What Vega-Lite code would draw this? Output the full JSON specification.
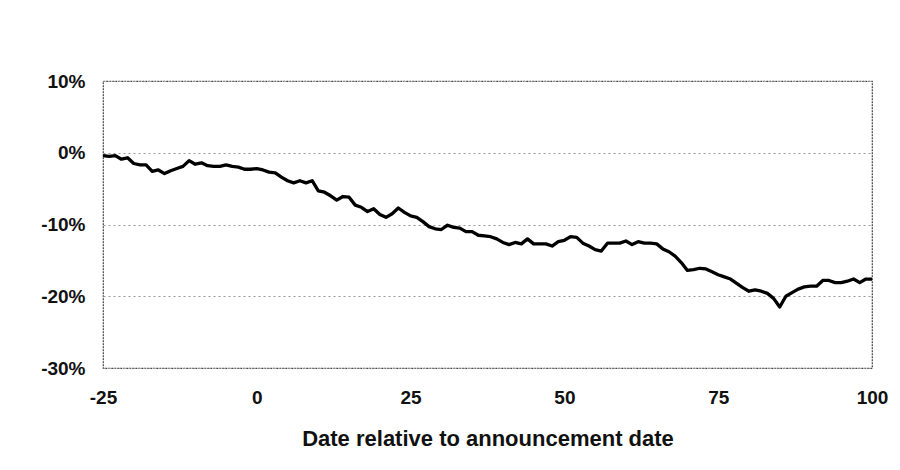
{
  "$schema": "https://vega.github.io/schema/vega-lite/v6.json",
  "autosize": {"type": "none"},
  "padding": {"left": 103, "top": 81, "right": 28, "bottom": 102},
  "width": 769,
  "height": 287,
  "background": "white",
  "config": {
    "view": {"stroke": "#444", "strokeWidth": 1.2, "strokeDash": [2, 1]},
    "axis": {"labelFont": "Liberation Sans", "titleFont": "Liberation Sans", "labelFontWeight": "bold", "titleFontWeight": "bold", "labelColor": "#111", "titleColor": "#111"}
  },
  "data": {"values": [
    {"day": -25, "ret": -0.4}, {"day": -24, "ret": -0.5}, {"day": -23, "ret": -0.4}, {"day": -22, "ret": -0.9},
    {"day": -21, "ret": -0.7}, {"day": -20, "ret": -1.5}, {"day": -19, "ret": -1.7}, {"day": -18, "ret": -1.7},
    {"day": -17, "ret": -2.6}, {"day": -16, "ret": -2.4}, {"day": -15, "ret": -2.9}, {"day": -14, "ret": -2.5},
    {"day": -13, "ret": -2.2}, {"day": -12, "ret": -1.9}, {"day": -11, "ret": -1.1}, {"day": -10, "ret": -1.6},
    {"day": -9, "ret": -1.4}, {"day": -8, "ret": -1.8}, {"day": -7, "ret": -1.9}, {"day": -6, "ret": -1.9},
    {"day": -5, "ret": -1.7}, {"day": -4, "ret": -1.9}, {"day": -3, "ret": -2.0}, {"day": -2, "ret": -2.3},
    {"day": -1, "ret": -2.3}, {"day": 0, "ret": -2.2}, {"day": 1, "ret": -2.4}, {"day": 2, "ret": -2.7},
    {"day": 3, "ret": -2.8}, {"day": 4, "ret": -3.4}, {"day": 5, "ret": -3.9}, {"day": 6, "ret": -4.2},
    {"day": 7, "ret": -3.9}, {"day": 8, "ret": -4.2}, {"day": 9, "ret": -3.9}, {"day": 10, "ret": -5.3},
    {"day": 11, "ret": -5.5}, {"day": 12, "ret": -6.0}, {"day": 13, "ret": -6.6}, {"day": 14, "ret": -6.1},
    {"day": 15, "ret": -6.2}, {"day": 16, "ret": -7.3}, {"day": 17, "ret": -7.6}, {"day": 18, "ret": -8.2},
    {"day": 19, "ret": -7.8}, {"day": 20, "ret": -8.6}, {"day": 21, "ret": -9.0}, {"day": 22, "ret": -8.5},
    {"day": 23, "ret": -7.7}, {"day": 24, "ret": -8.3}, {"day": 25, "ret": -8.8}, {"day": 26, "ret": -9.0},
    {"day": 27, "ret": -9.6}, {"day": 28, "ret": -10.3}, {"day": 29, "ret": -10.6}, {"day": 30, "ret": -10.7},
    {"day": 31, "ret": -10.1}, {"day": 32, "ret": -10.4}, {"day": 33, "ret": -10.5}, {"day": 34, "ret": -11.0},
    {"day": 35, "ret": -11.0}, {"day": 36, "ret": -11.5}, {"day": 37, "ret": -11.6}, {"day": 38, "ret": -11.7},
    {"day": 39, "ret": -12.0}, {"day": 40, "ret": -12.5}, {"day": 41, "ret": -12.8}, {"day": 42, "ret": -12.5},
    {"day": 43, "ret": -12.7}, {"day": 44, "ret": -12.0}, {"day": 45, "ret": -12.7}, {"day": 46, "ret": -12.7},
    {"day": 47, "ret": -12.7}, {"day": 48, "ret": -13.0}, {"day": 49, "ret": -12.4}, {"day": 50, "ret": -12.2},
    {"day": 51, "ret": -11.7}, {"day": 52, "ret": -11.8}, {"day": 53, "ret": -12.6}, {"day": 54, "ret": -13.0},
    {"day": 55, "ret": -13.5}, {"day": 56, "ret": -13.7}, {"day": 57, "ret": -12.6}, {"day": 58, "ret": -12.6},
    {"day": 59, "ret": -12.6}, {"day": 60, "ret": -12.3}, {"day": 61, "ret": -12.8}, {"day": 62, "ret": -12.4},
    {"day": 63, "ret": -12.6}, {"day": 64, "ret": -12.6}, {"day": 65, "ret": -12.7}, {"day": 66, "ret": -13.4},
    {"day": 67, "ret": -13.8}, {"day": 68, "ret": -14.4}, {"day": 69, "ret": -15.3}, {"day": 70, "ret": -16.4},
    {"day": 71, "ret": -16.3}, {"day": 72, "ret": -16.1}, {"day": 73, "ret": -16.2}, {"day": 74, "ret": -16.6},
    {"day": 75, "ret": -17.0}, {"day": 76, "ret": -17.3}, {"day": 77, "ret": -17.6}, {"day": 78, "ret": -18.2},
    {"day": 79, "ret": -18.8}, {"day": 80, "ret": -19.3}, {"day": 81, "ret": -19.1}, {"day": 82, "ret": -19.3},
    {"day": 83, "ret": -19.6}, {"day": 84, "ret": -20.3}, {"day": 85, "ret": -21.5}, {"day": 86, "ret": -20.0},
    {"day": 87, "ret": -19.5}, {"day": 88, "ret": -19.0}, {"day": 89, "ret": -18.7}, {"day": 90, "ret": -18.6},
    {"day": 91, "ret": -18.6}, {"day": 92, "ret": -17.8}, {"day": 93, "ret": -17.8}, {"day": 94, "ret": -18.1},
    {"day": 95, "ret": -18.1}, {"day": 96, "ret": -17.9}, {"day": 97, "ret": -17.6}, {"day": 98, "ret": -18.1},
    {"day": 99, "ret": -17.6}, {"day": 100, "ret": -17.6}
  ]},
  "mark": {"type": "line", "color": "#000", "strokeWidth": 3.3, "strokeJoin": "round"},
  "encoding": {
    "x": {
      "field": "day", "type": "quantitative",
      "scale": {"domain": [-25, 100], "nice": false, "zero": false},
      "axis": {
        "values": [-25, 0, 25, 50, 75, 100],
        "labelExpr": "datum.value + ''",
        "title": "Date relative to announcement date",
        "titleFontSize": 22, "titlePadding": 21,
        "labelFontSize": 19, "labelPadding": 20,
        "grid": false, "domain": false, "ticks": false, "labelFlush": false
      }
    },
    "y": {
      "field": "ret", "type": "quantitative",
      "scale": {"domain": [-30, 10], "nice": false},
      "axis": {
        "values": [-30, -20, -10, 0, 10],
        "labelExpr": "datum.value + '%'",
        "title": null,
        "labelFontSize": 19, "labelPadding": 18,
        "domain": false, "ticks": false,
        "grid": true, "gridColor": "#999", "gridDash": [2, 3], "gridWidth": 1
      }
    }
  }
}
